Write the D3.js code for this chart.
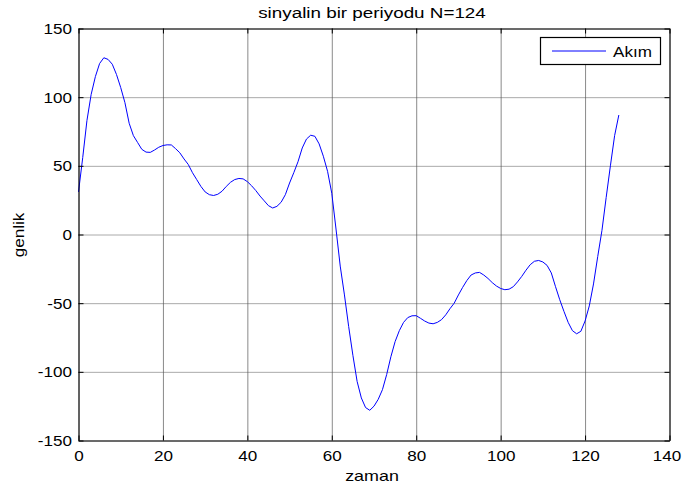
<!DOCTYPE html>
<html>
<head>
<meta charset="utf-8">
<script src="https://cdn.jsdelivr.net/npm/d3@7"></script>
<style>
  html, body { margin: 0; padding: 0; background: #fff; }
  svg { display: block; }
  text { font-family: "Liberation Sans", Arial, sans-serif; fill: #000; }
</style>
</head>
<body>
<svg id="chart" width="682" height="488"></svg>
<script>
// One period of the sampled signal
const sampleTimes = d3.range(0, 129);
const current = [
  31, 56, 83, 102, 115, 124.5, 128.7, 127.5, 124, 116.5,
  107, 96, 81, 72, 67, 62, 60, 59.8, 61.5, 63.5,
  64.8, 65.3, 65.2, 62.5, 59.5, 55, 51, 45, 40, 35,
  31, 29, 28.4, 29.3, 31.5, 35, 38, 40, 40.8, 40.5,
  38.5, 35.5, 32, 28, 24.5, 21, 19.3, 20.5, 23.5, 29,
  37.5, 45, 53, 63, 69.5, 72.3, 71.5, 66, 57, 46,
  30, 4, -23, -44, -67, -88, -107, -119, -126, -128,
  -125, -120, -113, -102, -89, -78, -70, -64, -60.5, -59.2,
  -59.1, -61, -63, -64.5, -65, -64, -62, -58.5, -54, -50,
  -44, -38.5, -33.5, -29.5, -28, -27.6, -29.5, -32, -35, -37.5,
  -39.3, -40.2, -39.8, -38, -34.5, -30.5, -26, -22, -19.5, -18.9,
  -20, -22.5, -28, -38, -47.5, -56, -64, -70, -72.3, -70.5,
  -63, -52, -36, -16, 3, 27, 50, 72, 87
];
const xTicks = [0, 20, 40, 60, 80, 100, 120, 140];
const yTicks = [-150, -100, -50, 0, 50, 100, 150];
const xDomain = [0, 140];
const yDomain = [-150, 150];
const seriesName = "Akım";
const titleText = "sinyalin bir periyodu N=124";
const xLabel = "zaman";
const yLabel = "genlik";

const svg = d3.select("#chart");
const width = 682;
const plotLeft = 78.5, plotRight = 669.5, plotTop = 28.5, plotBottom = 440.5;
const stretch = 1.22;   // horizontal stretch of the figure text
const fontSize = 14;
const tickFmt = d => String(d);   // plain hyphen for negatives

const x = d3.scaleLinear().domain(xDomain).range([plotLeft, plotRight]);
const y = d3.scaleLinear().domain(yDomain).range([plotBottom, plotTop]);

// Grid lines
const gridX = svg.append("g")
  .attr("transform", `translate(0,${plotBottom})`)
  .call(d3.axisBottom(x).tickValues(xTicks).tickSize(-(plotBottom - plotTop)).tickFormat(""));
gridX.select(".domain").remove();
gridX.selectAll("line").attr("stroke", "#8a8a8a").attr("stroke-width", 1);

const gridY = svg.append("g")
  .attr("transform", `translate(${plotLeft},0)`)
  .call(d3.axisLeft(y).tickValues(yTicks).tickSize(-(plotRight - plotLeft)).tickFormat(""));
gridY.select(".domain").remove();
gridY.selectAll("line").attr("stroke", "#555").attr("stroke-width", 1)
  .attr("stroke-dasharray", "1,1");

// Signal
const line = d3.line()
  .x((d, i) => x(sampleTimes[i]))
  .y(d => y(d));
svg.append("path")
  .datum(current)
  .attr("fill", "none")
  .attr("stroke", "#0000ff")
  .attr("stroke-width", 1)
  .attr("d", line);

// Axes box with inward ticks on all sides
function styleAxis(g) {
  g.select(".domain").attr("stroke", "#000").attr("stroke-width", 1);
  g.selectAll(".tick line").attr("stroke", "#000");
}
const tk = 5;
const axB = svg.append("g").attr("transform", `translate(0,${plotBottom})`)
  .call(d3.axisBottom(x).tickValues(xTicks).tickFormat(tickFmt).tickSizeInner(-tk).tickSizeOuter(0));
const axT = svg.append("g").attr("transform", `translate(0,${plotTop})`)
  .call(d3.axisTop(x).tickValues(xTicks).tickSizeInner(-tk).tickSizeOuter(0).tickFormat(""));
const axL = svg.append("g").attr("transform", `translate(${plotLeft},0)`)
  .call(d3.axisLeft(y).tickValues(yTicks).tickFormat(tickFmt).tickSizeInner(-tk).tickSizeOuter(0));
const axR = svg.append("g").attr("transform", `translate(${plotRight},0)`)
  .call(d3.axisRight(y).tickValues(yTicks).tickSizeInner(-tk).tickSizeOuter(0).tickFormat(""));
[axB, axT, axL, axR].forEach(styleAxis);
[axB, axT, axL, axR].forEach(g => g.attr("font-family", null).attr("font-size", null));

axB.selectAll(".tick text")
  .attr("font-size", fontSize)
  .attr("y", 20.5).attr("dy", null)
  .attr("transform", `scale(${stretch},1)`)
  .each(function (d) {
    // keep the last label inside the figure edge
    const bb = this.getBBox();
    const right = x(d) + bb.width * stretch / 2;
    if (right > width - 1) d3.select(this).attr("x", -(right - (width - 1)) / stretch);
  });
axL.selectAll(".tick text")
  .attr("font-size", fontSize)
  .attr("x", -6.5 / stretch).attr("dy", "0.36em")
  .attr("transform", `scale(${stretch},1)`);

// Title and axis labels
function stretchedText(tx, ty, str, size, sx, rotate) {
  return svg.append("text")
    .attr("transform", `translate(${tx},${ty})` + (rotate ? ` rotate(${rotate})` : "") + ` scale(${sx},1)`)
    .attr("text-anchor", "middle")
    .attr("font-size", size)
    .text(str);
}
stretchedText(372, 18, titleText, 14.5, 1.3);
stretchedText(372, 481, xLabel, fontSize, 1.28);
stretchedText(24, 235, yLabel, fontSize, 1.22, -90);

// Legend
const lg = svg.append("g");
lg.append("rect")
  .attr("x", 540.5).attr("y", 37.5).attr("width", 120).attr("height", 27)
  .attr("fill", "#fff").attr("stroke", "#000").attr("stroke-width", 1.2);
lg.append("line")
  .attr("x1", 552).attr("x2", 606).attr("y1", 51).attr("y2", 51)
  .attr("stroke", "#0000ff").attr("stroke-width", 1);
lg.append("text")
  .attr("transform", `translate(613,56.5) scale(1.22,1)`)
  .attr("font-size", fontSize)
  .text(seriesName);
</script>
</body>
</html>
